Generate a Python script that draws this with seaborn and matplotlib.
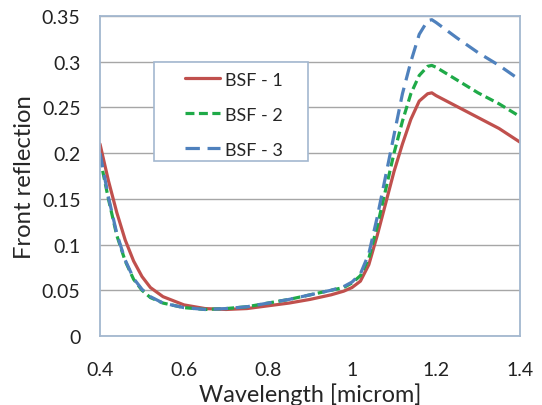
import pandas as pd
import matplotlib.pyplot as plt
import seaborn as sns
from matplotlib.patches import Rectangle

# Wavelength grid (microm) and reflection
wavelength = [0.40, 0.42, 0.44, 0.46, 0.48, 0.50, 0.52, 0.55, 0.60, 0.65, 0.70,
              0.75, 0.80, 0.85, 0.90, 0.95, 0.98, 1.00, 1.02, 1.04, 1.06, 1.08,
              1.10, 1.12, 1.14, 1.16, 1.18, 1.19, 1.20, 1.25, 1.30, 1.35, 1.40]

bsf1 = [0.210, 0.170, 0.135, 0.105, 0.082, 0.065, 0.053, 0.043, 0.034, 0.030, 0.029,
        0.030, 0.033, 0.036, 0.040, 0.045, 0.049, 0.053, 0.060, 0.078, 0.110, 0.145,
        0.180, 0.210, 0.237, 0.257, 0.265, 0.266, 0.263, 0.251, 0.239, 0.227, 0.212]

bsf2 = [0.195, 0.150, 0.110, 0.082, 0.062, 0.050, 0.042, 0.036, 0.031, 0.029, 0.030,
        0.032, 0.036, 0.040, 0.045, 0.050, 0.053, 0.058, 0.066, 0.085, 0.120, 0.160,
        0.200, 0.235, 0.265, 0.285, 0.295, 0.296, 0.294, 0.280, 0.266, 0.254, 0.240]

bsf3 = [0.200, 0.152, 0.112, 0.083, 0.063, 0.051, 0.043, 0.036, 0.031, 0.029, 0.030,
        0.032, 0.036, 0.040, 0.045, 0.050, 0.054, 0.059, 0.068, 0.090, 0.130, 0.175,
        0.220, 0.265, 0.300, 0.330, 0.345, 0.346, 0.343, 0.326, 0.310, 0.296, 0.280]

series_names = ['BSF - 1', 'BSF - 2', 'BSF - 3']
x_ticks = [0.4, 0.6, 0.8, 1.0, 1.2, 1.4]
x_tick_labels = ['0.4', '0.6', '0.8', '1', '1.2', '1.4']
y_ticks = [0, 0.05, 0.1, 0.15, 0.2, 0.25, 0.3, 0.35]
y_tick_labels = ['0', '0.05', '0.1', '0.15', '0.2', '0.25', '0.3', '0.35']

df = pd.concat([
    pd.DataFrame({'Wavelength': wavelength, 'Reflection': vals, 'Sample': name})
    for name, vals in zip(series_names, [bsf1, bsf2, bsf3])
])

sns.set_style('white')
plt.rcParams['font.family'] = ['Lato', 'DejaVu Sans']

fig = plt.figure(figsize=(5.42, 4.06), dpi=100)
ax = fig.add_axes([0.1845, 0.170, 0.775, 0.788])

palette = {'BSF - 1': '#C0504D', 'BSF - 2': '#1FAA48', 'BSF - 3': '#4F81BD'}
dashes = {'BSF - 1': '', 'BSF - 2': (2.8, 1.4), 'BSF - 3': (4.5, 2.4)}
sns.lineplot(data=df, x='Wavelength', y='Reflection', hue='Sample', style='Sample',
             palette=palette, dashes=dashes, linewidth=2.3, ax=ax)

ax.set_xlim(0.4, 1.4)
ax.set_ylim(0, 0.35)
ax.set_xticks(x_ticks)
ax.set_xticklabels(x_tick_labels)
ax.set_yticks(y_ticks)
ax.set_yticklabels(y_tick_labels)
ax.tick_params(labelsize=14, colors='#222222', length=0)
ax.tick_params(axis='x', pad=18)
ax.tick_params(axis='y', pad=14)
ax.yaxis.grid(True, color='#A6A6A6', linewidth=1)
ax.xaxis.grid(False)
for side in ['top', 'right', 'left', 'bottom']:
    ax.spines[side].set_color('#A3B7CF')
    ax.spines[side].set_linewidth(1.3)

ax.set_xlabel('Wavelength [microm]', fontsize=16.8, labelpad=3)
ax.set_ylabel('Front reflection', fontsize=17.2, labelpad=5)

# legend box drawn separately so it can be wider than its contents
ax.add_patch(Rectangle((0.128, 0.547), 0.367, 0.309, transform=ax.transAxes,
                       facecolor='white', edgecolor='#A3B7CF', linewidth=1.2, zorder=4))
leg = ax.legend(loc='upper left', bbox_to_anchor=(0.202, 0.826), fontsize=13,
                frameon=False, handlelength=1.95, handletextpad=0.3,
                labelspacing=1.05, borderpad=0, borderaxespad=0)
leg.set_zorder(5)

plt.savefig('out.png', dpi=100)
